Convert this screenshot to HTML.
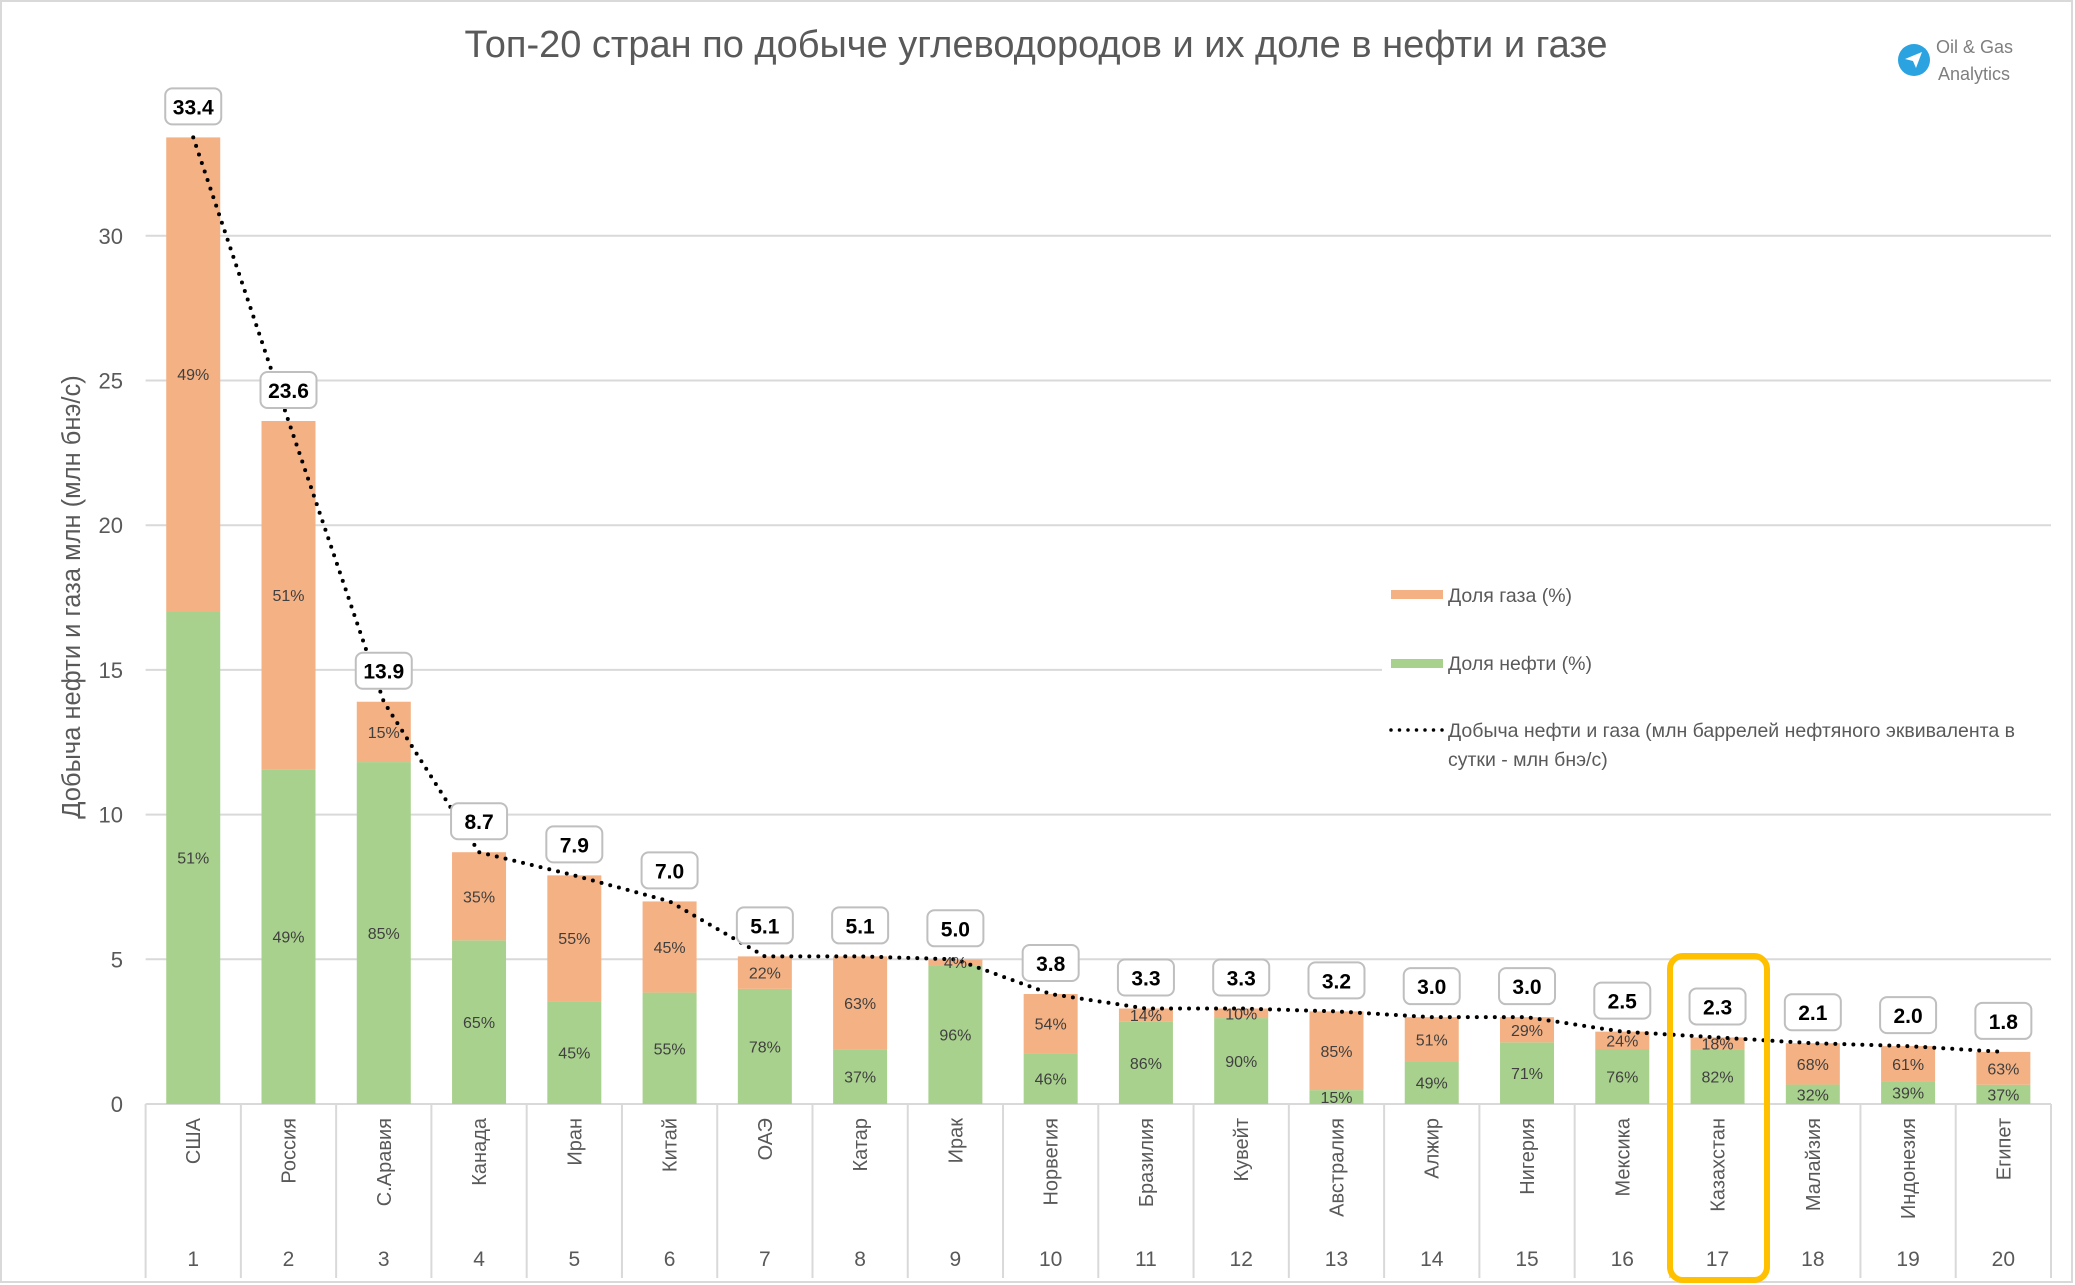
<!DOCTYPE html>
<html><head><meta charset="utf-8"><style>
body{margin:0;background:#fff;}
svg{display:block;font-family:"Liberation Sans","DejaVu Sans",sans-serif;}
</style></head><body>
<svg id="chart" width="2075" height="1285" viewBox="0 0 2075 1285" xmlns="http://www.w3.org/2000/svg">
<rect x="1" y="1" width="2071" height="1281" fill="#fff" stroke="#d9d9d9" stroke-width="2"/>
<text x="1036" y="57" text-anchor="middle" font-size="38" fill="#595959">Топ-20 стран по добыче углеводородов и их доле в нефти и газе</text>
<text transform="translate(80,597) rotate(-90)" text-anchor="middle" font-size="25.5" fill="#595959">Добыча нефти и газа млн (млн бнэ/с)</text>
<g>
<circle cx="1914" cy="60" r="16" fill="#2AA3E0"/>
<path d="M1905 59 L1922 52 L1916 68 L1913 61 Z" fill="#fff"/>
<text x="1936" y="53" font-size="18" fill="#7f7f7f">Oil &amp; Gas</text>
<text x="1938" y="80" font-size="18" fill="#7f7f7f">Analytics</text>
</g>
<g id="grid"></g><g id="bars"></g><g id="line"></g><g id="labels"></g>
<g>
<rect x="1382" y="555" width="670" height="225" fill="#fff"/>
<rect x="1391" y="590" width="52" height="9" fill="#F4B183"/>
<text x="1448" y="602" font-size="19.5" fill="#595959">Доля газа (%)</text>
<rect x="1391" y="659" width="52" height="9" fill="#A9D18E"/>
<text x="1448" y="670" font-size="19.5" fill="#595959">Доля нефти (%)</text>
<line x1="1391" y1="730" x2="1443" y2="730" stroke="#000" stroke-width="3.5" stroke-dasharray="0 8.5" stroke-linecap="round"/>
<text x="1448" y="737" font-size="19.5" fill="#595959">Добыча нефти и газа (млн баррелей нефтяного эквивалента в</text>
<text x="1448" y="766" font-size="19.5" fill="#595959">сутки - млн бнэ/с)</text>
</g>
<rect x="1670" y="956" width="97" height="324" rx="13" fill="none" stroke="#FFC000" stroke-width="6"/>
</svg>
<script>
const countries=["США","Россия","С.Аравия","Канада","Иран","Китай","ОАЭ","Катар","Ирак","Норвегия","Бразилия","Кувейт","Австралия","Алжир","Нигерия","Мексика","Казахстан","Малайзия","Индонезия","Египет"];
const totals=[33.4,23.6,13.9,8.7,7.9,7.0,5.1,5.1,5.0,3.8,3.3,3.3,3.2,3.0,3.0,2.5,2.3,2.1,2.0,1.8];
const oilShare=[51,49,85,65,45,55,78,37,96,46,86,90,15,49,71,76,82,32,39,37];
const yTicks=[0,5,10,15,20,25,30];
const NS="http://www.w3.org/2000/svg";
const L=145.6,R=2051,Y0=1104,PU=28.94,N=countries.length,BW=(R-L)/N;
function xc(i){return L+(i+0.5)*BW;}
function y(v){return Y0-v*PU;}
function mk(tag,at,parent){const e=document.createElementNS(NS,tag);for(const k in at)e.setAttribute(k,at[k]);parent.appendChild(e);return e;}
const grid=document.getElementById('grid'),bars=document.getElementById('bars'),line=document.getElementById('line'),labels=document.getElementById('labels');
yTicks.forEach(t=>{
 if(t>0){const g=mk('line',{x1:L,x2:R,y1:y(t),y2:y(t),stroke:'#d9d9d9','stroke-width':2},grid);
 
 }
 const tx=mk('text',{x:123,y:y(t)+8,'text-anchor':'end','font-size':22,fill:'#595959'},grid);
 tx.textContent=t;
 
 
});
const ax=mk('line',{x1:L,x2:R,y1:Y0,y2:Y0,stroke:'#d9d9d9','stroke-width':2},grid);


for(let i=0;i<=N;i++){const s=mk('line',{x1:L+i*BW,x2:L+i*BW,y1:Y0,y2:1278,stroke:'#d9d9d9','stroke-width':2},grid);
 
 }
const bw=54;
let pts=[];
countries.forEach((c,i)=>{
 const cx=xc(i),tot=totals[i],oil=tot*oilShare[i]/100,gas=tot-oil;
 const ob=mk('rect',{x:cx-bw/2,y:y(oil),width:bw,height:Y0-y(oil),fill:'#A9D18E'},bars);
 
 
 const gb=mk('rect',{x:cx-bw/2,y:y(tot),width:bw,height:y(oil)-y(tot),fill:'#F4B183'},bars);
 
 
 const po=mk('text',{x:cx,y:(y(oil)+Y0)/2+6,'text-anchor':'middle','font-size':16,fill:'#404040'},labels);
 po.textContent=oilShare[i]+'%';
 
 
 const pg=mk('text',{x:cx,y:(y(oil)+y(tot))/2+6,'text-anchor':'middle','font-size':16,fill:'#404040'},labels);
 pg.textContent=(100-oilShare[i])+'%';
 
 
 pts.push(cx+','+y(tot));
 const bx=mk('rect',{x:cx-28,y:y(tot)-49,width:56,height:36,rx:7,fill:'#fff',stroke:'#bfbfbf','stroke-width':2},labels);
 
 
 const tv=mk('text',{x:cx,y:y(tot)-23,'text-anchor':'middle','font-size':21,'font-weight':'bold',fill:'#000'},labels);
 tv.textContent=tot.toFixed(1);
 
 
 const cl=mk('text',{transform:'translate('+(cx+7)+',1118) rotate(-90)','text-anchor':'end','font-size':20,fill:'#595959'},labels);
 cl.textContent=c;
 
 
 const nl=mk('text',{x:cx,y:1266,'text-anchor':'middle','font-size':21,fill:'#595959'},labels);
 nl.textContent=i+1;
 
 
});
const pl=mk('polyline',{points:pts.join(' '),fill:'none',stroke:'#000','stroke-width':4,'stroke-dasharray':'0 9','stroke-linecap':'round'},line);


</script>
</body></html>
